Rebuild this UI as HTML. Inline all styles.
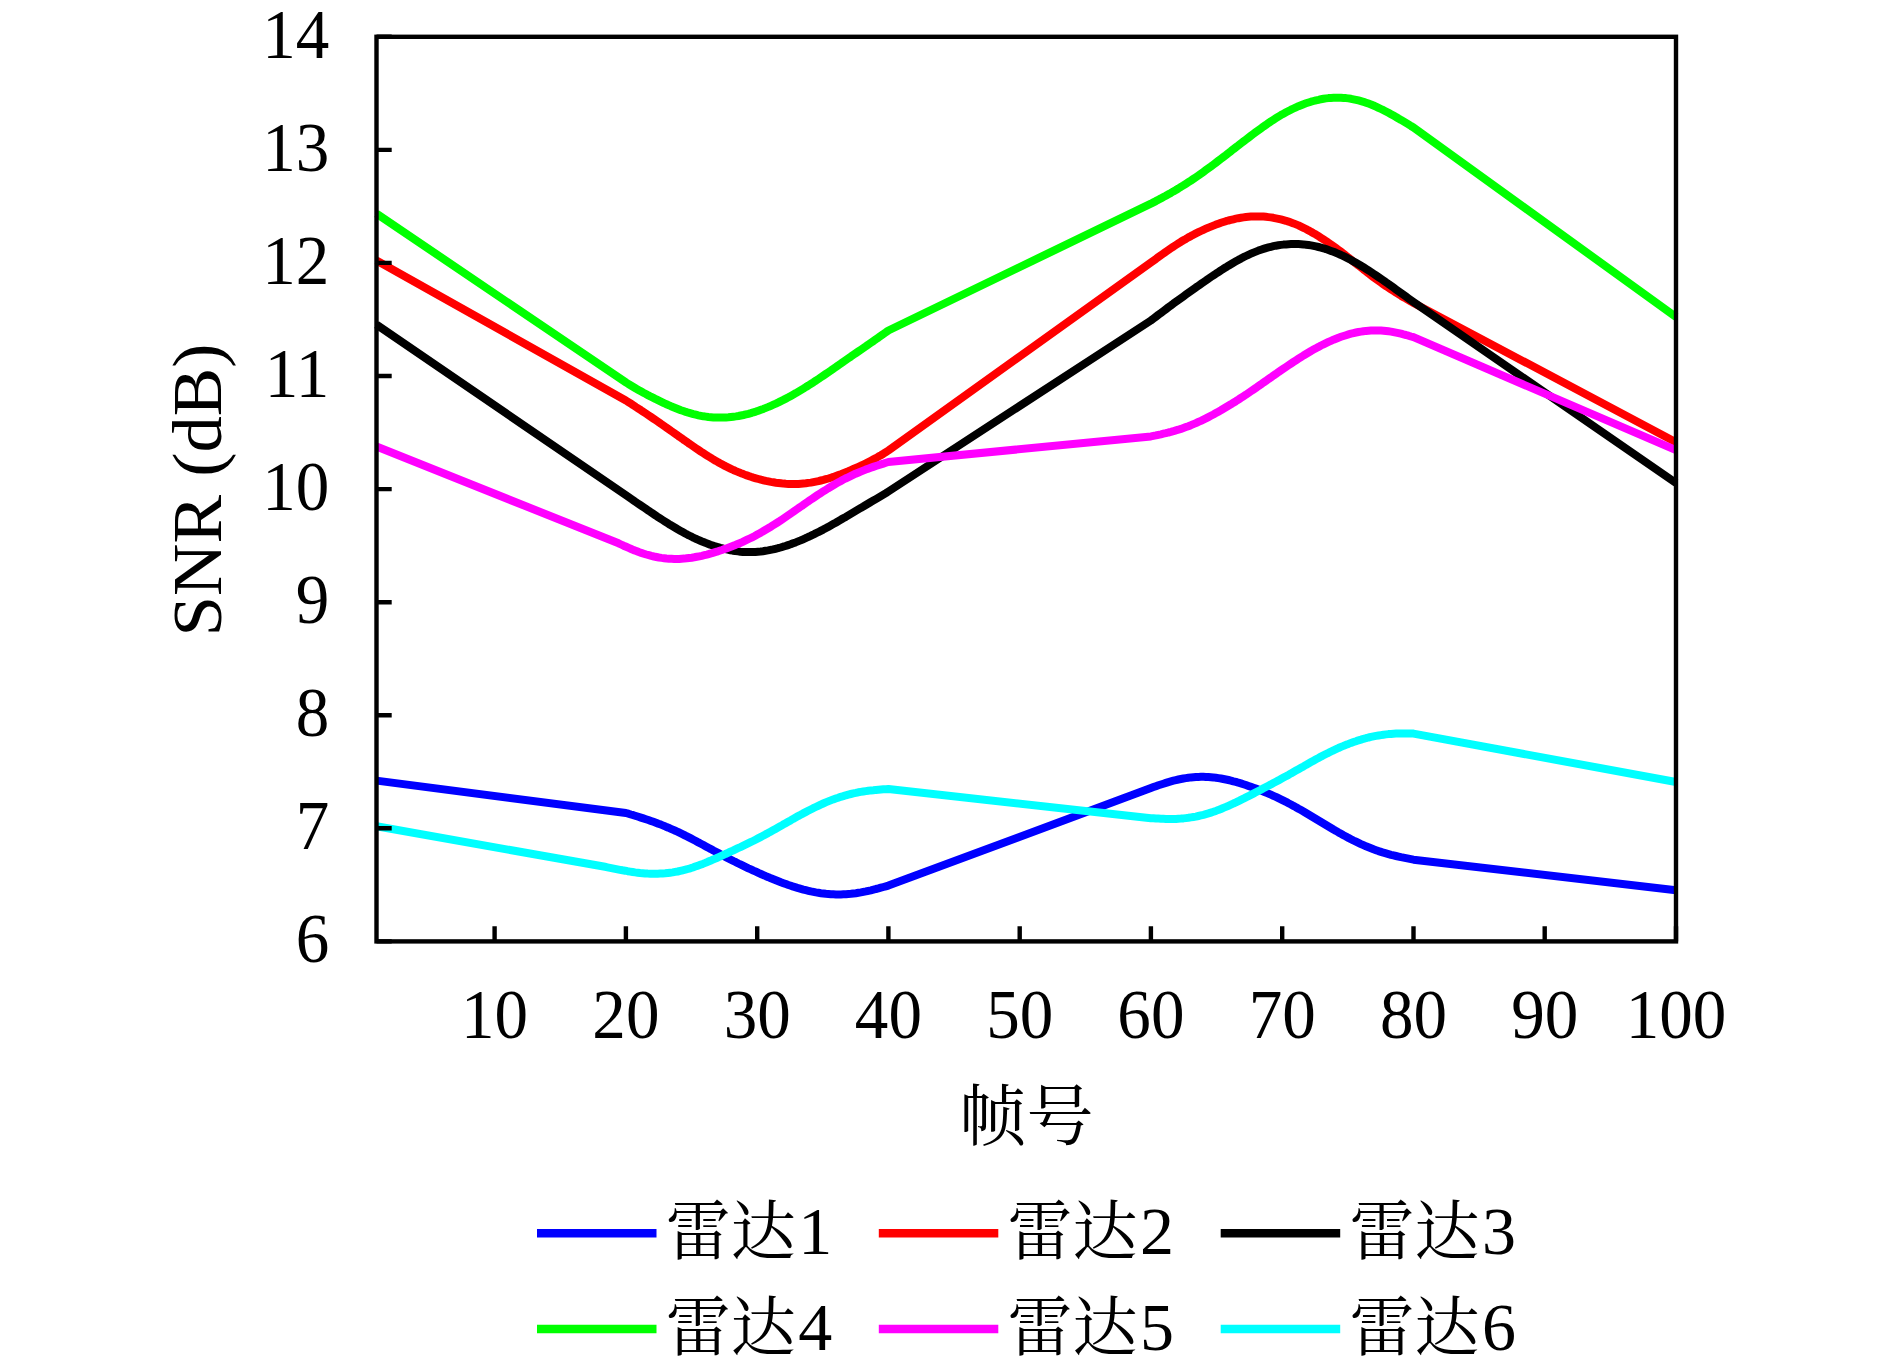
<!DOCTYPE html>
<html><head><meta charset="utf-8"><title>SNR</title>
<style>
html,body{margin:0;padding:0;background:#fff;}
body{width:1890px;height:1366px;overflow:hidden;}
svg{display:block;}
text{font-family:"Liberation Serif","Noto Serif CJK SC",serif;fill:#000;}
.tick text{font-size:69.5px;}
.cjk{font-family:"Liberation Serif","Noto Serif CJK SC",serif;font-size:65px;}
.num{font-family:"Liberation Serif",serif;font-size:68px;}
</style></head>
<body>
<svg width="1890" height="1366" viewBox="0 0 1890 1366">
<rect width="1890" height="1366" fill="#fff"/>
<g fill="none" stroke-width="8" stroke-linejoin="round" stroke-linecap="butt">
<path d="M376.5,780.6 L625.9,813.0 L628.4,813.7 L630.9,814.5 L633.4,815.2 L635.9,816.0 L638.4,816.8 L640.9,817.6 L643.4,818.4 L645.9,819.2 L648.4,820.0 L650.9,820.9 L653.4,821.8 L655.9,822.7 L658.4,823.7 L660.9,824.6 L663.4,825.6 L665.9,826.7 L668.4,827.7 L670.9,828.8 L673.4,829.9 L675.9,831.0 L678.4,832.2 L680.9,833.4 L683.4,834.6 L685.9,835.9 L688.4,837.1 L690.9,838.4 L693.4,839.7 L695.9,841.0 L698.4,842.4 L700.9,843.7 L703.4,845.0 L705.9,846.4 L708.4,847.8 L710.9,849.1 L713.4,850.5 L715.9,851.8 L718.4,853.1 L720.9,854.5 L723.4,855.8 L725.9,857.1 L728.4,858.4 L730.9,859.7 L733.4,861.0 L735.9,862.2 L738.4,863.5 L740.9,864.7 L743.4,865.9 L745.9,867.1 L748.4,868.3 L750.9,869.4 L753.4,870.6 L755.9,871.7 L758.4,872.9 L760.9,874.0 L763.4,875.1 L765.9,876.2 L768.4,877.2 L770.9,878.3 L773.4,879.3 L775.9,880.3 L778.4,881.3 L780.9,882.3 L783.4,883.2 L785.9,884.1 L788.4,885.0 L790.9,885.8 L793.4,886.7 L795.9,887.4 L798.4,888.2 L800.9,888.9 L803.4,889.6 L805.9,890.2 L808.4,890.8 L810.9,891.4 L813.4,891.9 L815.9,892.4 L818.4,892.8 L820.9,893.2 L823.4,893.5 L825.9,893.8 L828.4,894.0 L830.9,894.2 L833.4,894.3 L835.9,894.4 L838.4,894.4 L840.9,894.4 L843.4,894.3 L845.9,894.2 L848.4,894.0 L850.9,893.8 L853.4,893.5 L855.9,893.2 L858.4,892.8 L860.9,892.4 L863.4,891.9 L865.9,891.4 L868.4,890.8 L870.9,890.3 L873.4,889.7 L875.9,889.0 L878.4,888.4 L880.9,887.7 L883.4,887.0 L885.9,886.3 L888.4,885.6 L1150.9,788.0 L1153.4,787.1 L1155.9,786.2 L1158.4,785.3 L1160.9,784.5 L1163.4,783.7 L1165.9,782.9 L1168.4,782.1 L1170.9,781.4 L1173.4,780.7 L1175.9,780.1 L1178.4,779.5 L1180.9,779.0 L1183.4,778.5 L1185.9,778.1 L1188.4,777.7 L1190.9,777.4 L1193.4,777.2 L1195.9,777.0 L1198.4,776.9 L1200.9,776.8 L1203.4,776.8 L1205.9,776.9 L1208.4,777.0 L1210.9,777.2 L1213.4,777.4 L1215.9,777.7 L1218.4,778.1 L1220.9,778.5 L1223.4,779.0 L1225.9,779.5 L1228.4,780.0 L1230.9,780.6 L1233.4,781.3 L1235.9,781.9 L1238.4,782.7 L1240.9,783.4 L1243.4,784.2 L1245.9,785.0 L1248.4,785.9 L1250.9,786.8 L1253.4,787.7 L1255.9,788.6 L1258.4,789.5 L1260.9,790.5 L1263.4,791.5 L1265.9,792.6 L1268.4,793.6 L1270.9,794.7 L1273.4,795.8 L1275.9,796.9 L1278.4,798.1 L1280.9,799.3 L1283.5,800.6 L1286.0,801.8 L1288.5,803.2 L1291.0,804.5 L1293.5,805.9 L1296.0,807.2 L1298.5,808.7 L1301.0,810.1 L1303.5,811.5 L1306.0,813.0 L1308.5,814.5 L1311.0,816.0 L1313.5,817.5 L1316.0,819.0 L1318.5,820.5 L1321.0,822.0 L1323.5,823.5 L1326.0,825.0 L1328.5,826.5 L1331.0,828.0 L1333.5,829.5 L1336.0,830.9 L1338.5,832.4 L1341.0,833.8 L1343.5,835.2 L1346.0,836.5 L1348.5,837.9 L1351.0,839.2 L1353.5,840.5 L1356.0,841.7 L1358.5,842.9 L1361.0,844.1 L1363.5,845.2 L1366.0,846.3 L1368.5,847.3 L1371.0,848.3 L1373.5,849.3 L1376.0,850.2 L1378.5,851.1 L1381.0,851.9 L1383.5,852.7 L1386.0,853.4 L1388.5,854.1 L1391.0,854.8 L1393.5,855.4 L1396.0,856.0 L1398.5,856.6 L1401.0,857.2 L1403.5,857.7 L1406.0,858.2 L1408.5,858.7 L1411.0,859.2 L1413.5,859.7 L1676.0,890.3" stroke="#0000ff"/><path d="M376.5,260.5 L625.9,400.5 L628.4,402.1 L630.9,403.7 L633.4,405.3 L635.9,407.0 L638.4,408.6 L640.9,410.2 L643.4,411.9 L645.9,413.5 L648.4,415.2 L650.9,416.9 L653.4,418.6 L655.9,420.3 L658.4,422.0 L660.9,423.8 L663.4,425.5 L665.9,427.2 L668.4,429.0 L670.9,430.8 L673.4,432.5 L675.9,434.3 L678.4,436.1 L680.9,437.8 L683.4,439.6 L685.9,441.3 L688.4,443.1 L690.9,444.8 L693.4,446.5 L695.9,448.2 L698.4,449.9 L700.9,451.6 L703.4,453.2 L705.9,454.8 L708.4,456.4 L710.9,457.9 L713.4,459.5 L715.9,460.9 L718.4,462.4 L720.9,463.7 L723.4,465.1 L725.9,466.4 L728.4,467.6 L730.9,468.8 L733.4,470.0 L735.9,471.1 L738.4,472.1 L740.9,473.2 L743.4,474.1 L745.9,475.1 L748.4,475.9 L750.9,476.8 L753.4,477.6 L755.9,478.3 L758.4,479.0 L760.9,479.7 L763.4,480.3 L765.9,480.9 L768.4,481.4 L770.9,481.9 L773.4,482.3 L775.9,482.7 L778.4,483.0 L780.9,483.3 L783.4,483.6 L785.9,483.8 L788.4,483.9 L790.9,484.0 L793.4,484.0 L795.9,484.0 L798.4,483.9 L800.9,483.7 L803.4,483.5 L805.9,483.3 L808.4,482.9 L810.9,482.6 L813.4,482.1 L815.9,481.6 L818.4,481.1 L820.9,480.5 L823.4,479.9 L825.9,479.2 L828.4,478.5 L830.9,477.7 L833.4,476.9 L835.9,476.0 L838.4,475.1 L840.9,474.2 L843.4,473.2 L845.9,472.2 L848.4,471.2 L850.9,470.1 L853.4,469.0 L855.9,467.9 L858.4,466.8 L860.9,465.7 L863.4,464.5 L865.9,463.3 L868.4,462.0 L870.9,460.7 L873.4,459.4 L875.9,458.1 L878.4,456.6 L880.9,455.2 L883.4,453.7 L885.9,452.1 L888.4,450.5 L1150.9,262.5 L1153.4,260.7 L1155.9,258.9 L1158.4,257.0 L1160.9,255.2 L1163.4,253.5 L1165.9,251.7 L1168.4,250.0 L1170.9,248.3 L1173.4,246.6 L1175.9,245.0 L1178.4,243.4 L1180.9,241.8 L1183.4,240.3 L1185.9,238.9 L1188.4,237.4 L1190.9,236.1 L1193.4,234.7 L1195.9,233.4 L1198.4,232.2 L1200.9,231.0 L1203.4,229.8 L1205.9,228.7 L1208.4,227.6 L1210.9,226.6 L1213.4,225.6 L1215.9,224.6 L1218.4,223.7 L1220.9,222.8 L1223.4,222.0 L1225.9,221.2 L1228.4,220.5 L1230.9,219.9 L1233.4,219.3 L1235.9,218.7 L1238.4,218.2 L1240.9,217.8 L1243.4,217.4 L1245.9,217.0 L1248.4,216.8 L1250.9,216.6 L1253.4,216.5 L1255.9,216.4 L1258.4,216.4 L1260.9,216.5 L1263.4,216.6 L1265.9,216.8 L1268.4,217.1 L1270.9,217.4 L1273.4,217.8 L1275.9,218.3 L1278.4,218.8 L1280.9,219.4 L1283.5,220.1 L1286.0,220.8 L1288.5,221.6 L1291.0,222.5 L1293.5,223.4 L1296.0,224.4 L1298.5,225.4 L1301.0,226.6 L1303.5,227.8 L1306.0,229.0 L1308.5,230.4 L1311.0,231.7 L1313.5,233.2 L1316.0,234.6 L1318.5,236.2 L1321.0,237.8 L1323.5,239.4 L1326.0,241.0 L1328.5,242.8 L1331.0,244.5 L1333.5,246.3 L1336.0,248.1 L1338.5,249.9 L1341.0,251.8 L1343.5,253.7 L1346.0,255.7 L1348.5,257.6 L1351.0,259.6 L1353.5,261.6 L1356.0,263.6 L1358.5,265.5 L1361.0,267.5 L1363.5,269.5 L1366.0,271.4 L1368.5,273.4 L1371.0,275.3 L1373.5,277.2 L1376.0,279.0 L1378.5,280.8 L1381.0,282.6 L1383.5,284.4 L1386.0,286.1 L1388.5,287.7 L1391.0,289.4 L1393.5,291.0 L1396.0,292.6 L1398.5,294.1 L1401.0,295.7 L1403.5,297.2 L1406.0,298.6 L1408.5,300.1 L1411.0,301.6 L1413.5,303.0 L1676.0,442.2" stroke="#ff0000"/><path d="M376.5,324.6 L627.5,496.3 L630.0,498.0 L632.5,499.7 L635.0,501.5 L637.5,503.2 L640.0,504.9 L642.6,506.6 L645.1,508.3 L647.6,510.1 L650.1,511.7 L652.6,513.4 L655.1,515.1 L657.6,516.8 L660.1,518.4 L662.6,520.0 L665.1,521.6 L667.6,523.2 L670.1,524.8 L672.7,526.3 L675.2,527.8 L677.7,529.3 L680.2,530.7 L682.7,532.1 L685.2,533.5 L687.7,534.8 L690.2,536.0 L692.7,537.3 L695.2,538.5 L697.7,539.6 L700.3,540.7 L702.8,541.8 L705.3,542.8 L707.8,543.7 L710.3,544.7 L712.8,545.5 L715.3,546.4 L717.8,547.1 L720.3,547.9 L722.8,548.5 L725.3,549.2 L727.8,549.7 L730.4,550.2 L732.9,550.7 L735.4,551.1 L737.9,551.4 L740.4,551.7 L742.9,551.9 L745.4,552.0 L747.9,552.1 L750.4,552.1 L752.9,552.0 L755.4,551.9 L758.0,551.7 L760.5,551.5 L763.0,551.2 L765.5,550.8 L768.0,550.4 L770.5,549.9 L773.0,549.4 L775.5,548.8 L778.0,548.2 L780.5,547.5 L783.0,546.7 L785.5,546.0 L788.1,545.1 L790.6,544.3 L793.1,543.3 L795.6,542.4 L798.1,541.4 L800.6,540.4 L803.1,539.3 L805.6,538.2 L808.1,537.0 L810.6,535.9 L813.1,534.7 L815.6,533.4 L818.2,532.2 L820.7,530.9 L823.2,529.6 L825.7,528.2 L828.2,526.9 L830.7,525.5 L833.2,524.1 L835.7,522.7 L838.2,521.2 L840.7,519.8 L843.2,518.3 L845.8,516.9 L848.3,515.4 L850.8,513.9 L853.3,512.4 L855.8,510.9 L858.3,509.4 L860.8,507.9 L863.3,506.5 L865.8,505.0 L868.3,503.5 L870.8,502.0 L873.3,500.6 L875.9,499.1 L878.4,497.6 L880.9,496.1 L883.4,494.6 L885.9,493.1 L888.4,491.5 L1150.9,320.5 L1153.4,318.6 L1155.9,316.7 L1158.4,314.8 L1160.9,313.0 L1163.4,311.1 L1165.9,309.2 L1168.4,307.3 L1170.9,305.5 L1173.4,303.6 L1175.9,301.8 L1178.4,300.0 L1180.9,298.2 L1183.4,296.4 L1185.9,294.6 L1188.4,292.8 L1190.9,291.0 L1193.4,289.2 L1195.9,287.4 L1198.4,285.7 L1200.9,283.9 L1203.4,282.2 L1205.9,280.5 L1208.4,278.7 L1210.9,277.0 L1213.4,275.4 L1215.9,273.7 L1218.4,272.1 L1220.9,270.4 L1223.4,268.8 L1225.9,267.3 L1228.4,265.7 L1230.9,264.2 L1233.4,262.7 L1235.9,261.3 L1238.4,259.9 L1240.9,258.6 L1243.4,257.2 L1245.9,256.0 L1248.4,254.8 L1250.9,253.7 L1253.4,252.6 L1255.9,251.6 L1258.4,250.6 L1260.9,249.7 L1263.4,248.9 L1265.9,248.1 L1268.4,247.4 L1270.9,246.8 L1273.4,246.2 L1275.9,245.7 L1278.4,245.3 L1280.9,244.9 L1283.5,244.6 L1286.0,244.4 L1288.5,244.2 L1291.0,244.1 L1293.5,244.0 L1296.0,244.0 L1298.5,244.1 L1301.0,244.2 L1303.5,244.4 L1306.0,244.7 L1308.5,245.0 L1311.0,245.4 L1313.5,245.9 L1316.0,246.4 L1318.5,247.0 L1321.0,247.6 L1323.5,248.3 L1326.0,249.1 L1328.5,250.0 L1331.0,250.9 L1333.5,251.8 L1336.0,252.8 L1338.5,253.9 L1341.0,255.0 L1343.5,256.2 L1346.0,257.4 L1348.5,258.7 L1351.0,260.0 L1353.5,261.4 L1356.0,262.8 L1358.5,264.2 L1361.0,265.7 L1363.5,267.2 L1366.0,268.8 L1368.5,270.4 L1371.0,272.0 L1373.5,273.7 L1376.0,275.4 L1378.5,277.1 L1381.0,278.8 L1383.5,280.5 L1386.0,282.3 L1388.5,284.0 L1391.0,285.8 L1393.5,287.6 L1396.0,289.4 L1398.5,291.2 L1401.0,293.0 L1403.5,294.8 L1406.0,296.6 L1408.5,298.4 L1411.0,300.2 L1413.5,302.0 L1676.0,483.0" stroke="#000000"/><path d="M376.5,213.6 L625.9,382.4 L628.4,384.0 L630.9,385.5 L633.4,387.0 L635.9,388.5 L638.4,389.9 L640.9,391.3 L643.4,392.7 L645.9,394.0 L648.4,395.4 L650.9,396.7 L653.4,397.9 L655.9,399.2 L658.4,400.4 L660.9,401.6 L663.4,402.8 L665.9,404.0 L668.4,405.1 L670.9,406.2 L673.4,407.2 L675.9,408.2 L678.4,409.2 L680.9,410.2 L683.4,411.0 L685.9,411.9 L688.4,412.7 L690.9,413.4 L693.4,414.1 L695.9,414.7 L698.4,415.3 L700.9,415.8 L703.4,416.3 L705.9,416.6 L708.4,417.0 L710.9,417.2 L713.4,417.4 L715.9,417.6 L718.4,417.6 L720.9,417.6 L723.4,417.6 L725.9,417.5 L728.4,417.3 L730.9,417.0 L733.4,416.7 L735.9,416.4 L738.4,416.0 L740.9,415.5 L743.4,415.0 L745.9,414.4 L748.4,413.8 L750.9,413.1 L753.4,412.3 L755.9,411.6 L758.4,410.7 L760.9,409.8 L763.4,408.9 L765.9,407.9 L768.4,406.9 L770.9,405.8 L773.4,404.7 L775.9,403.6 L778.4,402.4 L780.9,401.1 L783.4,399.9 L785.9,398.6 L788.4,397.3 L790.9,395.9 L793.4,394.5 L795.9,393.1 L798.4,391.6 L800.9,390.1 L803.4,388.6 L805.9,387.0 L808.4,385.5 L810.9,383.9 L813.4,382.3 L815.9,380.6 L818.4,379.0 L820.9,377.3 L823.4,375.6 L825.9,373.9 L828.4,372.2 L830.9,370.5 L833.4,368.7 L835.9,367.0 L838.4,365.2 L840.9,363.5 L843.4,361.7 L845.9,360.0 L848.4,358.3 L850.9,356.6 L853.4,354.8 L855.9,353.1 L858.4,351.4 L860.9,349.7 L863.4,348.0 L865.9,346.3 L868.4,344.5 L870.9,342.8 L873.4,341.1 L875.9,339.3 L878.4,337.6 L880.9,335.8 L883.4,334.0 L885.9,332.3 L888.4,330.5 L1150.9,203.7 L1153.4,202.4 L1155.9,201.1 L1158.4,199.7 L1160.9,198.4 L1163.4,197.0 L1165.9,195.7 L1168.4,194.3 L1170.9,192.9 L1173.4,191.4 L1175.9,190.0 L1178.4,188.5 L1180.9,186.9 L1183.4,185.4 L1185.9,183.8 L1188.4,182.2 L1190.9,180.6 L1193.4,178.9 L1195.9,177.2 L1198.4,175.5 L1200.9,173.7 L1203.4,171.9 L1205.9,170.1 L1208.4,168.3 L1210.9,166.5 L1213.4,164.6 L1215.9,162.7 L1218.4,160.8 L1220.9,158.9 L1223.4,157.0 L1225.9,155.1 L1228.4,153.1 L1230.9,151.2 L1233.4,149.2 L1235.9,147.3 L1238.4,145.4 L1240.9,143.4 L1243.4,141.5 L1245.9,139.6 L1248.4,137.7 L1250.9,135.8 L1253.4,133.9 L1255.9,132.0 L1258.4,130.2 L1260.9,128.4 L1263.4,126.6 L1265.9,124.9 L1268.4,123.1 L1270.9,121.4 L1273.4,119.8 L1275.9,118.2 L1278.4,116.6 L1280.9,115.1 L1283.5,113.7 L1286.0,112.3 L1288.5,111.0 L1291.0,109.7 L1293.5,108.5 L1296.0,107.3 L1298.5,106.2 L1301.0,105.2 L1303.5,104.2 L1306.0,103.3 L1308.5,102.5 L1311.0,101.7 L1313.5,101.0 L1316.0,100.3 L1318.5,99.8 L1321.0,99.2 L1323.5,98.8 L1326.0,98.4 L1328.5,98.1 L1331.0,97.9 L1333.5,97.8 L1336.0,97.7 L1338.5,97.7 L1341.0,97.7 L1343.5,97.9 L1346.0,98.1 L1348.5,98.4 L1351.0,98.8 L1353.5,99.3 L1356.0,99.8 L1358.5,100.4 L1361.0,101.1 L1363.5,101.8 L1366.0,102.7 L1368.5,103.6 L1371.0,104.5 L1373.5,105.5 L1376.0,106.6 L1378.5,107.8 L1381.0,109.0 L1383.5,110.2 L1386.0,111.5 L1388.5,112.8 L1391.0,114.2 L1393.5,115.6 L1396.0,117.0 L1398.5,118.5 L1401.0,119.9 L1403.5,121.4 L1406.0,122.9 L1408.5,124.4 L1411.0,126.0 L1413.5,127.5 L1676.0,317.0" stroke="#00ff00"/><path d="M376.5,446.5 L618.6,543.3 L621.1,544.5 L623.6,545.7 L626.2,546.8 L628.7,547.9 L631.2,549.0 L633.7,550.1 L636.3,551.0 L638.8,552.0 L641.3,552.9 L643.8,553.7 L646.3,554.5 L648.9,555.2 L651.4,555.9 L653.9,556.5 L656.4,557.0 L658.9,557.5 L661.5,557.9 L664.0,558.2 L666.5,558.5 L669.0,558.7 L671.6,558.8 L674.1,558.9 L676.6,558.9 L679.1,558.9 L681.6,558.7 L684.2,558.6 L686.7,558.3 L689.2,558.0 L691.7,557.7 L694.2,557.3 L696.8,556.8 L699.3,556.3 L701.8,555.8 L704.3,555.2 L706.9,554.6 L709.4,553.9 L711.9,553.2 L714.4,552.4 L716.9,551.7 L719.5,550.8 L722.0,550.0 L724.5,549.1 L727.0,548.2 L729.5,547.3 L732.1,546.3 L734.6,545.3 L737.1,544.2 L739.6,543.2 L742.2,542.1 L744.7,540.9 L747.2,539.7 L749.7,538.5 L752.2,537.3 L754.8,536.0 L757.3,534.6 L759.8,533.2 L762.3,531.8 L764.8,530.3 L767.4,528.8 L769.9,527.3 L772.4,525.7 L774.9,524.1 L777.5,522.5 L780.0,520.9 L782.5,519.2 L785.0,517.5 L787.5,515.8 L790.1,514.0 L792.6,512.3 L795.1,510.5 L797.6,508.8 L800.1,507.0 L802.7,505.3 L805.2,503.5 L807.7,501.8 L810.2,500.0 L812.8,498.3 L815.3,496.6 L817.8,494.9 L820.3,493.3 L822.8,491.7 L825.4,490.1 L827.9,488.5 L830.4,487.0 L832.9,485.5 L835.4,484.0 L838.0,482.6 L840.5,481.2 L843.0,479.8 L845.5,478.5 L848.1,477.3 L850.6,476.1 L853.1,474.9 L855.6,473.7 L858.1,472.7 L860.7,471.6 L863.2,470.6 L865.7,469.6 L868.2,468.7 L870.7,467.8 L873.3,466.9 L875.8,466.0 L878.3,465.2 L880.8,464.4 L883.4,463.6 L885.9,462.8 L888.4,462.0 L1150.9,436.4 L1153.4,435.9 L1155.9,435.4 L1158.4,434.8 L1160.9,434.3 L1163.4,433.7 L1165.9,433.2 L1168.4,432.5 L1170.9,431.9 L1173.4,431.2 L1175.9,430.4 L1178.4,429.7 L1180.9,428.9 L1183.4,428.0 L1185.9,427.1 L1188.4,426.2 L1190.9,425.2 L1193.4,424.1 L1195.9,423.1 L1198.4,421.9 L1200.9,420.8 L1203.4,419.6 L1205.9,418.4 L1208.4,417.1 L1210.9,415.8 L1213.4,414.5 L1215.9,413.1 L1218.4,411.7 L1220.9,410.3 L1223.4,408.8 L1225.9,407.3 L1228.4,405.8 L1230.9,404.3 L1233.4,402.7 L1235.9,401.2 L1238.4,399.6 L1240.9,397.9 L1243.4,396.3 L1245.9,394.7 L1248.4,393.0 L1250.9,391.3 L1253.4,389.6 L1255.9,387.9 L1258.4,386.1 L1260.9,384.4 L1263.4,382.6 L1265.9,380.9 L1268.4,379.1 L1270.9,377.4 L1273.4,375.6 L1275.9,373.9 L1278.4,372.1 L1280.9,370.4 L1283.5,368.7 L1286.0,367.0 L1288.5,365.3 L1291.0,363.6 L1293.5,361.9 L1296.0,360.3 L1298.5,358.7 L1301.0,357.1 L1303.5,355.5 L1306.0,354.0 L1308.5,352.5 L1311.0,351.0 L1313.5,349.6 L1316.0,348.2 L1318.5,346.9 L1321.0,345.5 L1323.5,344.3 L1326.0,343.1 L1328.5,341.9 L1331.0,340.8 L1333.5,339.7 L1336.0,338.7 L1338.5,337.7 L1341.0,336.8 L1343.5,336.0 L1346.0,335.2 L1348.5,334.4 L1351.0,333.7 L1353.5,333.1 L1356.0,332.5 L1358.5,332.0 L1361.0,331.6 L1363.5,331.2 L1366.0,330.9 L1368.5,330.7 L1371.0,330.5 L1373.5,330.4 L1376.0,330.4 L1378.5,330.4 L1381.0,330.5 L1383.5,330.7 L1386.0,331.0 L1388.5,331.3 L1391.0,331.6 L1393.5,332.1 L1396.0,332.6 L1398.5,333.1 L1401.0,333.7 L1403.5,334.4 L1406.0,335.0 L1408.5,335.7 L1411.0,336.5 L1413.5,337.2 L1676.0,450.2" stroke="#ff00ff"/><path d="M376.5,826.3 L605.0,866.8 L607.5,867.3 L610.0,867.8 L612.5,868.3 L615.0,868.8 L617.5,869.3 L620.0,869.8 L622.6,870.3 L625.1,870.7 L627.6,871.2 L630.1,871.6 L632.6,872.0 L635.1,872.4 L637.6,872.7 L640.1,873.0 L642.6,873.2 L645.1,873.4 L647.6,873.6 L650.1,873.7 L652.7,873.8 L655.2,873.8 L657.7,873.7 L660.2,873.6 L662.7,873.5 L665.2,873.3 L667.7,873.0 L670.2,872.7 L672.7,872.4 L675.2,871.9 L677.7,871.5 L680.2,870.9 L682.7,870.3 L685.3,869.7 L687.8,869.0 L690.3,868.3 L692.8,867.5 L695.3,866.6 L697.8,865.7 L700.3,864.8 L702.8,863.9 L705.3,862.9 L707.8,861.8 L710.3,860.8 L712.8,859.7 L715.4,858.6 L717.9,857.5 L720.4,856.3 L722.9,855.2 L725.4,854.0 L727.9,852.9 L730.4,851.7 L732.9,850.6 L735.4,849.4 L737.9,848.2 L740.4,847.1 L742.9,845.9 L745.4,844.7 L748.0,843.4 L750.5,842.2 L753.0,841.0 L755.5,839.7 L758.0,838.4 L760.5,837.1 L763.0,835.8 L765.5,834.4 L768.0,833.1 L770.5,831.7 L773.0,830.3 L775.5,828.9 L778.0,827.5 L780.6,826.1 L783.1,824.6 L785.6,823.2 L788.1,821.8 L790.6,820.4 L793.1,818.9 L795.6,817.5 L798.1,816.1 L800.6,814.8 L803.1,813.4 L805.6,812.1 L808.1,810.8 L810.7,809.5 L813.2,808.2 L815.7,807.0 L818.2,805.8 L820.7,804.6 L823.2,803.5 L825.7,802.4 L828.2,801.4 L830.7,800.4 L833.2,799.4 L835.7,798.5 L838.2,797.7 L840.7,796.8 L843.3,796.1 L845.8,795.3 L848.3,794.6 L850.8,794.0 L853.3,793.4 L855.8,792.9 L858.3,792.3 L860.8,791.9 L863.3,791.5 L865.8,791.1 L868.3,790.7 L870.8,790.4 L873.4,790.2 L875.9,789.9 L878.4,789.7 L880.9,789.5 L883.4,789.3 L885.9,789.2 L888.4,789.0 L1150.9,818.2 L1153.4,818.3 L1155.9,818.5 L1158.4,818.6 L1160.9,818.7 L1163.4,818.8 L1165.9,818.9 L1168.4,819.0 L1170.9,819.0 L1173.4,818.9 L1175.9,818.9 L1178.4,818.7 L1180.9,818.6 L1183.4,818.4 L1185.9,818.1 L1188.4,817.8 L1190.9,817.4 L1193.4,817.0 L1195.9,816.6 L1198.4,816.0 L1200.9,815.4 L1203.4,814.8 L1205.9,814.1 L1208.4,813.4 L1210.9,812.6 L1213.4,811.8 L1215.9,810.9 L1218.4,809.9 L1220.9,809.0 L1223.4,807.9 L1225.9,806.9 L1228.4,805.8 L1230.9,804.7 L1233.4,803.5 L1235.9,802.4 L1238.4,801.2 L1240.9,799.9 L1243.4,798.7 L1245.9,797.4 L1248.4,796.2 L1250.9,794.9 L1253.4,793.6 L1255.9,792.3 L1258.4,791.0 L1260.9,789.7 L1263.4,788.3 L1265.9,787.0 L1268.4,785.7 L1270.9,784.4 L1273.4,783.0 L1275.9,781.7 L1278.4,780.4 L1280.9,779.0 L1283.5,777.6 L1286.0,776.3 L1288.5,774.9 L1291.0,773.4 L1293.5,772.0 L1296.0,770.6 L1298.5,769.2 L1301.0,767.8 L1303.5,766.4 L1306.0,764.9 L1308.5,763.5 L1311.0,762.1 L1313.5,760.7 L1316.0,759.3 L1318.5,758.0 L1321.0,756.6 L1323.5,755.3 L1326.0,754.0 L1328.5,752.8 L1331.0,751.5 L1333.5,750.3 L1336.0,749.2 L1338.5,748.0 L1341.0,746.9 L1343.5,745.9 L1346.0,744.8 L1348.5,743.9 L1351.0,742.9 L1353.5,742.0 L1356.0,741.2 L1358.5,740.3 L1361.0,739.6 L1363.5,738.8 L1366.0,738.2 L1368.5,737.5 L1371.0,736.9 L1373.5,736.4 L1376.0,735.9 L1378.5,735.5 L1381.0,735.1 L1383.5,734.7 L1386.0,734.4 L1388.5,734.1 L1391.0,733.9 L1393.5,733.7 L1396.0,733.6 L1398.5,733.5 L1401.0,733.5 L1403.5,733.5 L1406.0,733.5 L1408.5,733.5 L1411.0,733.5 L1413.5,733.6 L1676.0,782.0" stroke="#00ffff"/>
</g>
<g stroke="#000" stroke-width="4.4" fill="none">
<path d="M494.6,941.4 V926.2 M625.9,941.4 V926.2 M757.2,941.4 V926.2 M888.4,941.4 V926.2 M1019.7,941.4 V926.2 M1150.9,941.4 V926.2 M1282.2,941.4 V926.2 M1413.5,941.4 V926.2 M1544.7,941.4 V926.2 M1676.0,941.4 V926.2 M376.5,941.4 H391.7 M376.5,828.3 H391.7 M376.5,715.2 H391.7 M376.5,602.2 H391.7 M376.5,489.1 H391.7 M376.5,376.0 H391.7 M376.5,262.9 H391.7 M376.5,149.9 H391.7 M376.5,36.8 H391.7"/>
</g>
<rect x="376.5" y="36.8" width="1299.5" height="904.6" fill="none" stroke="#000" stroke-width="4.4"/>
<g class="tick"><text transform="translate(494.6,1038) scale(0.965,1)" text-anchor="middle">10</text><text transform="translate(625.9,1038) scale(0.965,1)" text-anchor="middle">20</text><text transform="translate(757.2,1038) scale(0.965,1)" text-anchor="middle">30</text><text transform="translate(888.4,1038) scale(0.965,1)" text-anchor="middle">40</text><text transform="translate(1019.7,1038) scale(0.965,1)" text-anchor="middle">50</text><text transform="translate(1150.9,1038) scale(0.965,1)" text-anchor="middle">60</text><text transform="translate(1282.2,1038) scale(0.965,1)" text-anchor="middle">70</text><text transform="translate(1413.5,1038) scale(0.965,1)" text-anchor="middle">80</text><text transform="translate(1544.7,1038) scale(0.965,1)" text-anchor="middle">90</text><text transform="translate(1676.0,1038) scale(0.965,1)" text-anchor="middle">100</text><text transform="translate(329.3,962.4) scale(0.965,1)" text-anchor="end">6</text><text transform="translate(329.3,849.3) scale(0.965,1)" text-anchor="end">7</text><text transform="translate(329.3,736.2) scale(0.965,1)" text-anchor="end">8</text><text transform="translate(329.3,623.2) scale(0.965,1)" text-anchor="end">9</text><text transform="translate(329.3,510.1) scale(0.965,1)" text-anchor="end">10</text><text transform="translate(329.3,397.0) scale(0.965,1)" text-anchor="end">11</text><text transform="translate(329.3,283.9) scale(0.965,1)" text-anchor="end">12</text><text transform="translate(329.3,170.9) scale(0.965,1)" text-anchor="end">13</text><text transform="translate(329.3,57.8) scale(0.965,1)" text-anchor="end">14</text></g>
<text transform="translate(221,490) rotate(-90)" text-anchor="middle" font-size="70" textLength="293" lengthAdjust="spacingAndGlyphs">SNR (dB)</text>
<text x="1026.5" y="1139.5" text-anchor="middle" font-size="67">帧号</text>
<path d="M537.0,1233.2 H656.5" stroke="#0000ff" stroke-width="8.5" fill="none"/><text x="665.8" y="1254.2"><tspan class="cjk">雷达</tspan><tspan class="num" dx="2.5">1</tspan></text><path d="M878.8,1233.2 H998.3" stroke="#ff0000" stroke-width="8.5" fill="none"/><text x="1007.5" y="1254.2"><tspan class="cjk">雷达</tspan><tspan class="num" dx="2.5">2</tspan></text><path d="M1220.7,1233.2 H1340.2" stroke="#000000" stroke-width="8.5" fill="none"/><text x="1349.5" y="1254.2"><tspan class="cjk">雷达</tspan><tspan class="num" dx="2.5">3</tspan></text><path d="M537.0,1329.0 H656.5" stroke="#00ff00" stroke-width="8.5" fill="none"/><text x="665.8" y="1350.0"><tspan class="cjk">雷达</tspan><tspan class="num" dx="2.5">4</tspan></text><path d="M878.8,1329.0 H998.3" stroke="#ff00ff" stroke-width="8.5" fill="none"/><text x="1007.5" y="1350.0"><tspan class="cjk">雷达</tspan><tspan class="num" dx="2.5">5</tspan></text><path d="M1220.7,1329.0 H1340.2" stroke="#00ffff" stroke-width="8.5" fill="none"/><text x="1349.5" y="1350.0"><tspan class="cjk">雷达</tspan><tspan class="num" dx="2.5">6</tspan></text>
</svg>
</body></html>
